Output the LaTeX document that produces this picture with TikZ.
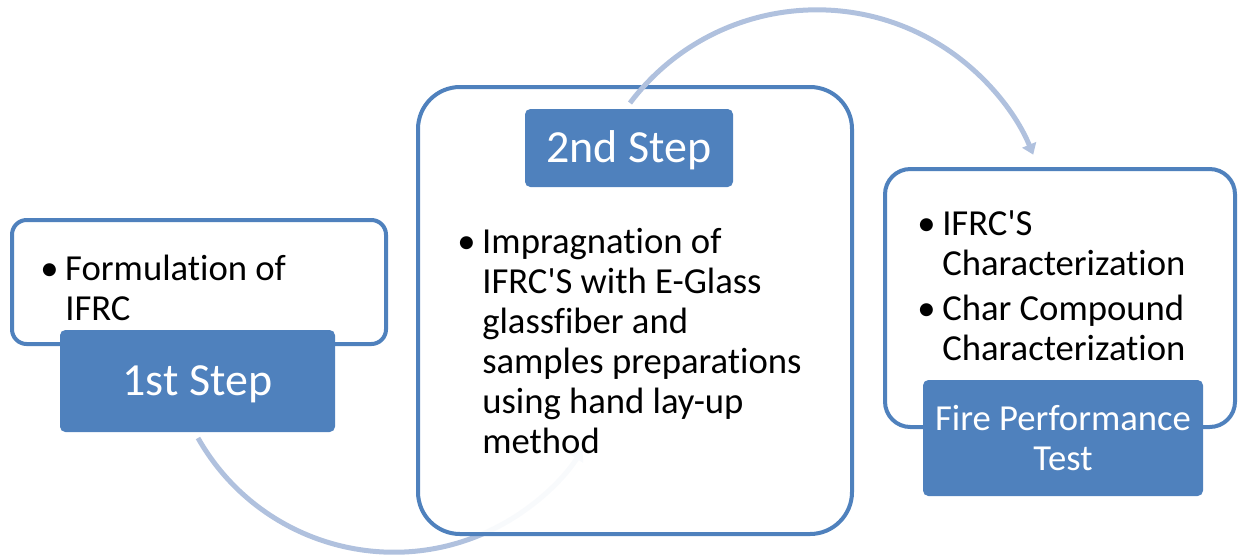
\documentclass[tikz,border=0pt]{standalone}
\usepackage{fontspec}
\setmainfont{Carlito}[Ligatures={NoCommon}]
\usetikzlibrary{fit,arrows.meta}
\definecolor{accent}{HTML}{4F81BD}
\definecolor{arcblue}{HTML}{B0C1DE}
\newcommand\bulletmark{\llap{\textbullet\hspace{5pt}}}
\newcommand\apos{\textquotesingle}
\tikzset{
  outerbox/.style={draw=accent, line width=3pt, fill=white, inner sep=0pt},
  tagbox/.style={fill=accent, draw=none, rounded corners=4pt, inner sep=0pt},
  tagtext/.style={inner sep=0pt, text=white, align=center, anchor=center},
  bodytext/.style={inner sep=0pt, align=left, font=\fontsize{27.5}{30}\selectfont, anchor=base west},
  flow/.style={draw=arcblue, line width=3.75pt},
  flowtip/.style={-{Triangle[width=11pt,length=8pt]}},
}
\begin{document}
\begin{tikzpicture}[x=0.75pt,y=-0.75pt]
\useasboundingbox (0,0) rectangle (1241,558);
% corner coordinates
\coordinate (b1a) at (12,220);  \coordinate (b1b) at (386,344);
\coordinate (l1a) at (60,330);  \coordinate (l1b) at (335,432);
\coordinate (b2a) at (418,87);  \coordinate (b2b) at (852,534);
\coordinate (l2a) at (525,109); \coordinate (l2b) at (733,187);
\coordinate (b3a) at (885,169); \coordinate (b3b) at (1235,427);
\coordinate (l3a) at (923,380); \coordinate (l3b) at (1203,496);
% flow 1 (behind)
\coordinate (s1) at (198,438);
\draw[flow, flowtip] (s1) arc[start angle=209.5, end angle=327, radius=168.75pt] coordinate (e1);
% step 1
\node[outerbox, rounded corners=11pt, fit=(b1a)(b1b)] (box1) {};
\node[tagbox, fit=(l1a)(l1b)] (tag1) {};
\node[tagtext, font=\fontsize{34.5}{40}\selectfont] (tag1t) at ([yshift=-2.5pt]tag1.center) {1st Step};
\node[bodytext] (txt1) at (65,320) {\bulletmark Formulation of\\IFRC};
% step 2
\node[outerbox, rounded corners=31.5pt, fill opacity=0.92, fit=(b2a)(b2b)] (box2) {};
\coordinate (s2) at (630,103);
\draw[flow, flowtip] (s2) arc[start angle=143, end angle=22.4, radius=175.5pt] coordinate (e2);
\node[tagbox, fit=(l2a)(l2b)] (tag2) {};
\node[tagtext, font=\fontsize{34.5}{40}\selectfont] (tag2t) at ([yshift=-1.5pt]tag2.center) {2nd Step};
\node[bodytext] (txt2) at (482,453) {\bulletmark Impragnation of\\IFRC\apos S with E-Glass\\glassfiber and\\samples preparations\\using hand lay-up\\method};
% step 3
\node[outerbox, rounded corners=19pt, fit=(b3a)(b3b)] (box3) {};
\node[tagbox, fit=(l3a)(l3b)] (tag3) {};
\node[tagtext, font=\fontsize{27.5}{30}\selectfont] (tag3t) at (tag3.center) {Fire Performance\\Test};
\node[bodytext] (txt3) at (942,360) {\bulletmark IFRC\apos S\\Characterization\\[3.75pt]\bulletmark Char Compound\\Characterization};
\end{tikzpicture}
\end{document}
